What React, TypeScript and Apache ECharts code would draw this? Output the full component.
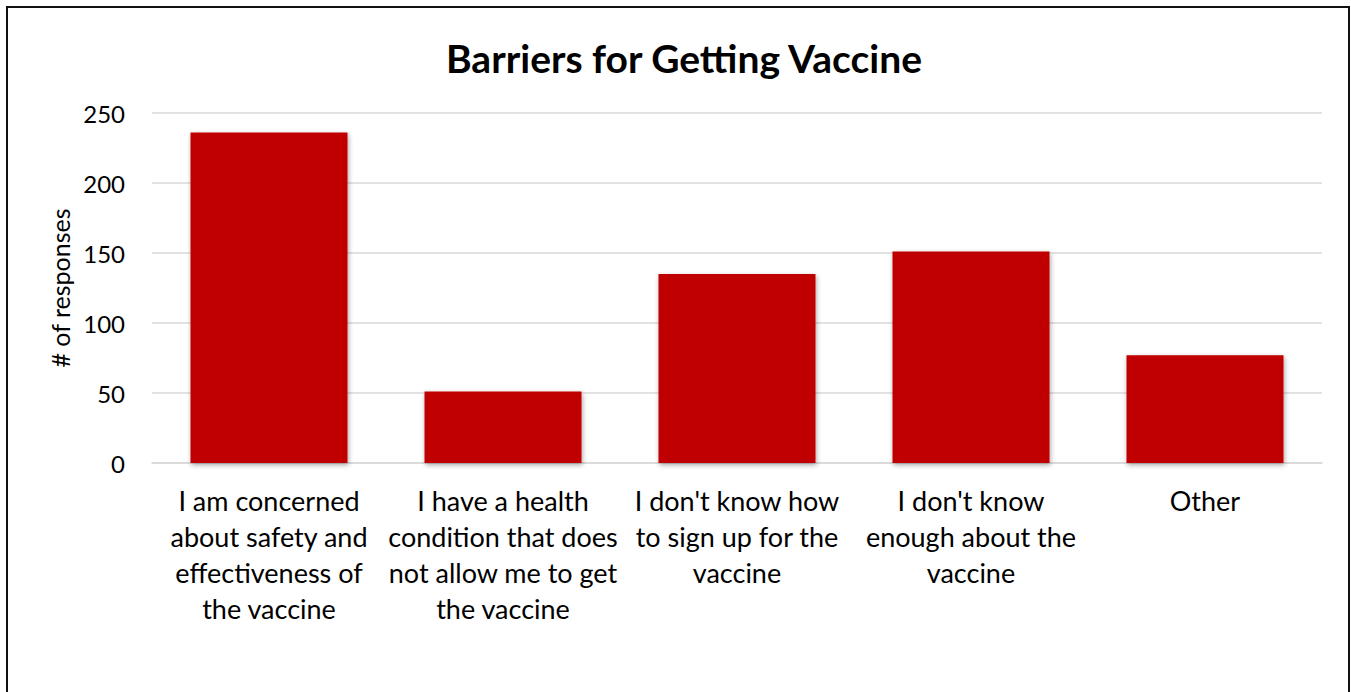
import React, { useEffect, useRef } from "react";
import * as echarts from "echarts";

const categories = [
  "I am concerned\nabout safety and\neffectiveness of\nthe vaccine",
  "I have a health\ncondition that does\nnot allow me to get\nthe vaccine",
  "I don't know how\nto sign up for the\nvaccine",
  "I don't know\nenough about the\nvaccine",
  "Other",
];
const responses = [236, 51, 135, 151, 77];
const yTicks = { min: 0, max: 250, interval: 50 };

const FONT = "Lato, 'Open Sans', sans-serif";

export default function App() {
  const ref = useRef<HTMLDivElement>(null);

  useEffect(() => {
    if (!ref.current) return;
    const chart = echarts.init(ref.current, undefined, { renderer: "svg" });
    chart.setOption({
      animation: false,
      backgroundColor: "#ffffff",
      title: {
        text: "Barriers for Getting Vaccine",
        left: 679,
        textAlign: "center",
        top: 33,
        textStyle: {
          fontFamily: FONT,
          fontSize: 39,
          fontWeight: "bold",
          color: "#000000",
        },
      },
      graphic: [
        {
          type: "rect",
          shape: { x: 7, y: 7, width: 1342, height: 700 },
          style: { fill: "none", stroke: "#111111", lineWidth: 2 },
          silent: true,
        },
      ],
      grid: { left: 152, right: 29, top: 113, bottom: 229 },
      xAxis: {
        type: "category",
        data: categories,
        axisTick: { show: false },
        axisLine: { show: true, lineStyle: { color: "#d9d9d9", width: 1.5 } },
        axisLabel: {
          interval: 0,
          margin: 19,
          fontFamily: FONT,
          fontSize: 27,
          lineHeight: 36,
          color: "#000000",
          align: "center",
          verticalAlign: "top",
        },
      },
      yAxis: {
        type: "value",
        min: yTicks.min,
        max: yTicks.max,
        interval: yTicks.interval,
        name: "# of responses",
        nameLocation: "middle",
        nameGap: 80,
        nameRotate: 90,
        nameTextStyle: { fontFamily: FONT, fontSize: 25, color: "#000000" },
        axisLine: { show: false },
        axisTick: { show: false },
        splitLine: { lineStyle: { color: "#d9d9d9", width: 1.5 } },
        axisLabel: {
          margin: 27,
          fontFamily: FONT,
          fontSize: 24,
          color: "#000000",
        },
      },
      series: [
        {
          type: "bar",
          data: responses,
          barWidth: 157,
          itemStyle: {
            color: "#c00000",
            shadowBlur: 5,
            shadowColor: "rgba(0,0,0,0.35)",
            shadowOffsetX: 1,
            shadowOffsetY: 2,
          },
        },
      ],
    });
    return () => chart.dispose();
  }, []);

  return (
    <div
      ref={ref}
      style={{ position: "fixed", left: 0, top: 0, width: 1351, height: 692 }}
    />
  );
}
